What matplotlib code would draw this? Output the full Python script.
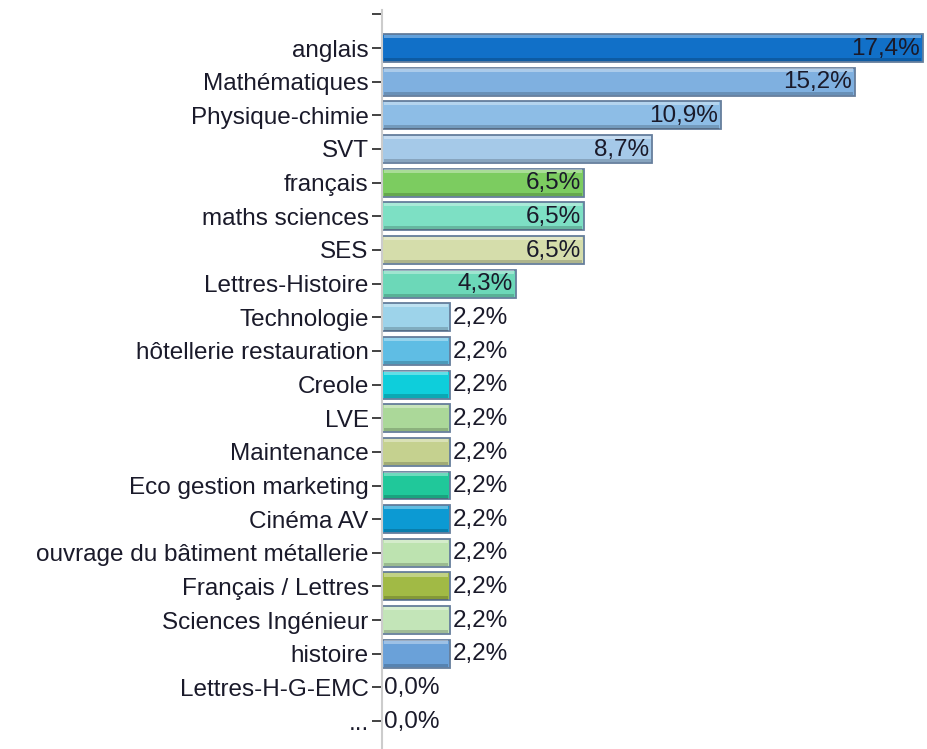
import matplotlib
matplotlib.use("Agg")
import matplotlib.pyplot as plt

plt.rcParams['font.family'] = ['Liberation Sans', 'DejaVu Sans']

subjects = ["anglais", "Mathématiques", "Physique-chimie", "SVT", "français",
            "maths sciences", "SES", "Lettres-Histoire", "Technologie",
            "hôtellerie restauration", "Creole", "LVE", "Maintenance",
            "Eco gestion marketing", "Cinéma AV",
            "ouvrage du bâtiment métallerie", "Français / Lettres",
            "Sciences Ingénieur", "histoire", "Lettres-H-G-EMC", "..."]
shares = [17.4, 15.2, 10.9, 8.7, 6.5, 6.5, 6.5, 4.3, 2.2, 2.2, 2.2, 2.2, 2.2,
          2.2, 2.2, 2.2, 2.2, 2.2, 2.2, 0.0, 0.0]
colors = ["#1170c8", "#7fb0e0", "#8dbde6", "#a5c9e8", "#7ccc60", "#7de0c4",
          "#d5ddab", "#6cd8b8", "#9dd3ea", "#5fbde4", "#0ecedb", "#abd899",
          "#c5d18f", "#20c89a", "#0c9ad3", "#bde3b0", "#a1ba45", "#c3e5b8",
          "#6aa1d9", "#cccccc", "#cccccc"]

fig = plt.figure(figsize=(9.27, 7.49), dpi=100)
ax = fig.add_axes([0.412, 0.0, 0.588, 0.9866])

pos = list(range(1, len(subjects) + 1))
h = 0.83
ax.barh(pos, shares, height=h, color=colors, edgecolor="#667e9c", linewidth=1.3, zorder=2)
# bevel: light top strip, darker bottom strip
ax.barh([p - h / 2 + 0.07 for p in pos], [max(s - 0.12, 0) for s in shares], left=0.06,
        height=0.1, color="white", alpha=0.35, linewidth=0, zorder=3)
ax.barh([p + h / 2 - 0.07 for p in pos], [max(s - 0.12, 0) for s in shares], left=0.06,
        height=0.1, color="black", alpha=0.18, linewidth=0, zorder=3)

fs = 17.5
for p, s in zip(pos, shares):
    txt = f"{s:.1f}%".replace(".", ",")
    if s >= 4:
        ax.text(s - 0.1, p + 0.02, txt, ha="right", va="center", fontsize=fs,
                color="#1a1a2a", zorder=4)
    else:
        ax.text(s + 0.07, p + 0.02, txt, ha="left", va="center", fontsize=fs,
                color="#1a1a2a", zorder=4)

ax.set_yticks([0] + pos)
ax.set_yticklabels([""] + subjects, fontsize=fs, color="#1a1a2a")
ax.set_ylim(21.83, -0.129)
ax.set_xlim(0, 17.53)
ax.set_xticks([])
ax.tick_params(axis="y", length=7, width=1.2, color="#222222", pad=2.5)
for side in ["top", "right", "bottom"]:
    ax.spines[side].set_visible(False)
ax.spines["left"].set_color("#cccccc")
ax.spines["left"].set_linewidth(1.5)

fig.savefig("out.png", dpi=100)
